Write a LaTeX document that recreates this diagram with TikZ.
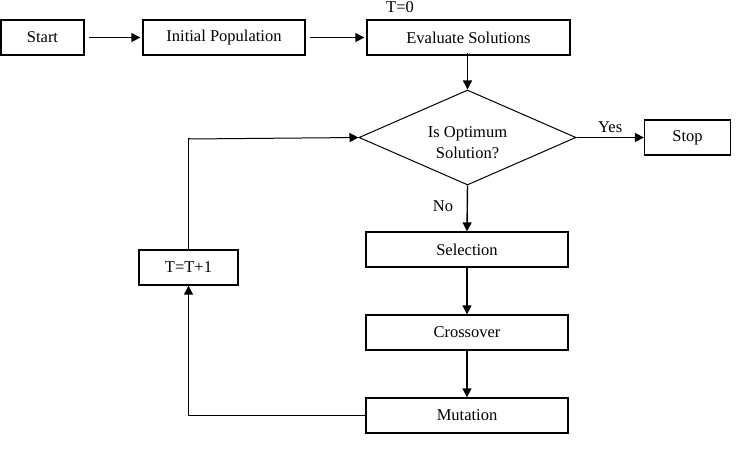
\documentclass[tikz,border=0pt]{standalone}
\usepackage{fontspec}
\setmainfont{Liberation Serif}
\usetikzlibrary{arrows.meta,shapes.geometric}
\begin{document}
\begin{tikzpicture}[x=1pt,y=-1pt,
  box/.style={draw,line width=1.3pt,minimum height=35pt,inner sep=0pt,font=\fontsize{16.5}{18}\selectfont},
  dec/.style={draw,line width=1pt,diamond,aspect=2.27,minimum width=217pt,minimum height=95pt,inner sep=0pt,align=center,font=\fontsize{16.5}{21}\selectfont},
  arr/.style={line width=1.4pt,-{Triangle[length=9pt,width=9pt]}},
  ln/.style={line width=1pt},
  lbl/.style={font=\fontsize{16.5}{18}\selectfont}]
\useasboundingbox (0,0) rectangle (748,460);
\node[box,minimum width=83pt] (start) at (42.5,37.5) {Start};
\node[box,minimum width=162pt] (init) at (224,37.5) {Initial Population};
\node[box,minimum width=203pt] (eval) at (468.5,37.5) {Evaluate Solutions};
\node[lbl] (t0) at (400,7) {T=0};
\node[dec] (opt) at (467.5,137.5) {\rule{0pt}{22pt}Is Optimum\\Solution?};
\node[box,minimum width=86pt] (stop) at (687.5,137.5) {Stop};
\node[box,minimum width=202pt] (sel) at (467,249.5) {Selection};
\node[box,minimum width=202pt] (cro) at (467,332.5) {Crossover};
\node[box,minimum width=202pt] (mut) at (467,415.5) {Mutation};
\node[box,minimum width=99pt] (tt) at (188.5,267.5) {T=T+1};
\coordinate (c1) at (189,139);
\draw[arr] ([xshift=4pt]start.east) -- ([xshift=-2pt]init.west);
\draw[arr] ([xshift=4pt]init.east) -- ([xshift=-2pt]eval.west);
\draw[arr] ([yshift=3pt]eval.south -| opt.north) -- (opt.north);
\draw[arr] (opt.east) -- node[lbl,above=1pt] (yes) {Yes} (stop.west);
\draw[arr] (opt.south) -- (sel.north);
\node[lbl] (no) at (443,206) {No};
\draw[arr] (sel.south) -- (cro.north);
\draw[arr] (cro.south) -- (mut.north);
\draw[ln,-{Triangle[length=9pt,width=9pt]}] (mut.west) -| (tt.south);
\draw[ln] (tt.north) |- (c1);
\draw[ln,-{Triangle[length=9pt,width=9pt]}] (c1) -- (opt.west);
\end{tikzpicture}
\end{document}
